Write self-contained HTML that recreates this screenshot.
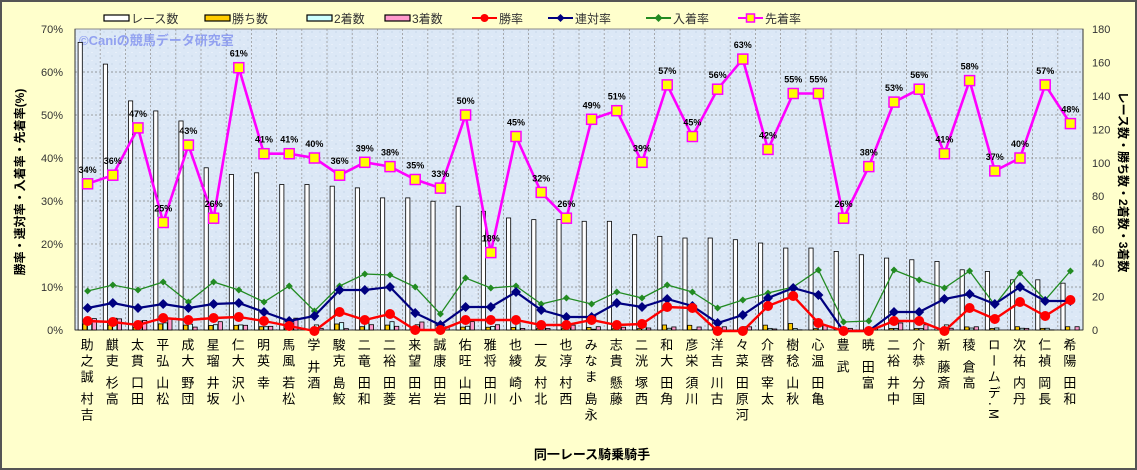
<!DOCTYPE html>
<html><head><meta charset="utf-8">
<style>
html,body{margin:0;padding:0;}
body{width:1137px;height:470px;overflow:hidden;background:#fff;}
#wrap{position:relative;width:1133px;height:466px;border:2px solid #555;background:#FFFFCC;font-family:"Liberation Sans","Noto Sans CJK JP",sans-serif;}
svg{position:absolute;left:0;top:0;}
.lab{position:absolute;top:336px;writing-mode:vertical-rl;font-size:13px;line-height:13px;letter-spacing:3px;color:#000;white-space:pre;font-family:"Noto Sans CJK JP",sans-serif;}
</style></head><body>
<div id="wrap">
<svg id="s" width="1133" height="466" xmlns="http://www.w3.org/2000/svg"></svg>
</div>
<script>
const names=["吉村 誠之助","高杉 吏麒","田口 貫太","松山 弘平","団野 大成","坂井 瑠星","小沢 大仁","幸 英明","松若 風馬","酒井 学","鮫島 克駿","和田 竜二","菱田 裕二","岩田 望来","岩田 康誠","田山 旺佑","川田 将雅","小崎 綾也","北村 友一","西村 淳也","永島 まなみ","藤懸 貴志","西塚 洸二","角田 大和","川須 栄彦","古川 吉洋","河原田 菜々","太宰 啓介","秋山 稔樹","亀田 温心","武 豊","富田 暁","中井 裕二","国分 恭介","斎藤 新","高倉 稜","M.デムーロ","丹内 祐次","長岡 禎仁","和田 陽希"];
const sen=[34,36,47,25,43,26,61,41,41,40,36,39,38,35,33,50,18,45,32,26,49,51,39,57,45,56,63,42,55,55,26,38,53,56,41,58,37,40,57,48];
const races=[172,159,137,131,125,97,93,94,87,87,86,85,79,79,77,74,71,67,66,66,65,65,57,56,55,55,54,52,49,49,47,45,43,42,41,36,35,30,30,28];
const red=[319,320,323,316,318,316,315,319,324,329,310,318,312,328,328,318,318,318,323,323,318,323,322,305,306,329,329,304,294,321,329,329,319,319,329,306,317,300,314,298];
const navy=[306,301,306,302,306,302,301,310,319,314,288,288,285,311,323,305,305,290,308,315,315,301,305,297,304,321,313,296,286,293,329,329,310,310,297,292,302,285,299,299];
const green=[289,283,288,280,300,280,288,300,284,309,284,272,273,285,312,276,286,284,302,296,302,290,296,283,290,306,298,291,285,268,320,319,268,278,286,269,303,271,298,269];
const L=73,R=1081,T=27,B=328,N=40,cw=(R-L)/N;
const pct=v=>B-v*(B-T)/70, cnt=v=>B-v*(B-T)/180;
const cx=i=>L+cw*(i+0.5);
let s='';
s+=`<defs><pattern id="tx" width="8" height="8" patternUnits="userSpaceOnUse"><rect width="8" height="8" fill="#DCE8F6"/><rect x="1" y="2" width="2" height="1" fill="#E8F0FA"/><rect x="5" y="5" width="2" height="2" fill="#D2E0F0"/></pattern></defs>`;
s+=`<rect x="${L}" y="${T}" width="${R-L}" height="${B-T}" fill="url(#tx)"/>`;
for(let k=1;k<7;k++){const y=pct(k*10);s+=`<line x1="${L}" x2="${R}" y1="${y}" y2="${y}" stroke="#888" stroke-dasharray="2,2" stroke-width="0.8"/>`;}
for(let i=1;i<N;i++){const x=L+cw*i;s+=`<line x1="${x}" x2="${x}" y1="${T}" y2="${B}" stroke="#999" stroke-dasharray="2,2" stroke-width="0.8"/>`;}
s+=`<rect x="${L}" y="${T}" width="${R-L}" height="${B-T}" fill="none" stroke="#888"/>`;
// axes
s+=`<line x1="${L}" x2="${L}" y1="${T}" y2="${B}" stroke="#333"/><line x1="${R}" x2="${R}" y1="${T}" y2="${B}" stroke="#333"/><line x1="${L}" x2="${R}" y1="${B}" y2="${B}" stroke="#333"/>`;
for(let k=0;k<=7;k++){const y=pct(k*10);s+=`<text x="61" y="${y+4}" font-size="11" text-anchor="end" fill="#333">${k*10}%</text>`;}
for(let k=0;k<=9;k++){const y=cnt(k*20);s+=`<text x="1090" y="${y+4}" font-size="11" fill="#333">${k*20}</text>`;}
s+=`<text x="77" y="43" font-size="13" font-weight="bold" fill="#8A9AF0" opacity="0.9">©Caniの競馬データ研究室</text>`;
// bars
for(let i=0;i<N;i++){
 const x=cx(i),r=races[i];
 const w=(B-red[i])/4.3/100,n=(B-navy[i])/4.3/100,g=(B-green[i])/4.3/100;
 const c1=r*w,c2=Math.max(0,(n-w)*r),c3=Math.max(0,(g-n)*r);
 const bw=4.2;const x0=x-9.5;
 const bar=(xx,v,f)=>{if(v<=0.01)return '';const y=cnt(v);return `<rect x="${xx}" y="${y}" width="${bw}" height="${B-y}" fill="${f}" stroke="#000" stroke-width="0.8"/>`;};
 s+=bar(x0,r,'#fff')+bar(x0+bw+0.5,c1,'#FFCC00')+bar(x0+2*(bw+0.5),c2,'#CCFFFF')+bar(x0+3*(bw+0.5),c3,'#FF99CC');
}
const line=(arr,col,sw)=>`<polyline fill="none" stroke="${col}" stroke-width="${sw}" points="${arr.map((y,i)=>cx(i)+','+y).join(' ')}"/>`;
s+=line(green,'#228B22',1.3);
green.forEach((y,i)=>{const x=cx(i);s+=`<polygon points="${x},${y-3.5} ${x+3.5},${y} ${x},${y+3.5} ${x-3.5},${y}" fill="#228B22"/>`;});
s+=line(navy,'#000080',2.2);
navy.forEach((y,i)=>{const x=cx(i);s+=`<polygon points="${x},${y-5} ${x+5},${y} ${x},${y+5} ${x-5},${y}" fill="#000080"/>`;});
s+=line(red,'#FF0000',2.4);
red.forEach((y,i)=>{s+=`<circle cx="${cx(i)}" cy="${y}" r="5" fill="#FF0000"/>`;});
const my=sen.map(v=>pct(v));
s+=line(my,'#FF00FF',2.6);
my.forEach((y,i)=>{const x=cx(i);s+=`<rect x="${x-5}" y="${y-5}" width="10" height="10" fill="#FFFF00" stroke="#FF00FF" stroke-width="1.5"/><text x="${x}" y="${y-11}" font-size="9" font-weight="bold" text-anchor="middle">${sen[i]}%</text>`;});
// legend
const lg=[[102,'box','#fff','レース数'],[203,'box','#FFCC00','勝ち数'],[305,'box','#CCFFFF','2着数'],[383,'box','#FF99CC','3着数'],[470,'ln','#FF0000','勝率','c'],[546,'ln','#000080','連対率','d'],[644,'ln','#228B22','入着率','d'],[736,'ln','#FF00FF','先着率','s']];
lg.forEach(([x,t,c,txt,m])=>{
 if(t=='box'){s+=`<rect x="${x}" y="13" width="25" height="6" fill="${c}" stroke="#000" stroke-width="1.2"/>`;}
 else{s+=`<line x1="${x}" x2="${x+25}" y1="16" y2="16" stroke="${c}" stroke-width="2"/>`;const mx=x+12.5;
  if(m=='c')s+=`<circle cx="${mx}" cy="16" r="4" fill="${c}"/>`;
  else if(m=='d')s+=`<polygon points="${mx},12 ${mx+4},16 ${mx},20 ${mx-4},16" fill="${c}"/>`;
  else s+=`<rect x="${mx-4}" y="12" width="8" height="8" fill="#FFFF00" stroke="${c}" stroke-width="1.5"/>`;}
 s+=`<text x="${x+27}" y="21" font-size="12" fill="#333">${txt}</text>`;
});
s+=`<text x="590" y="457" font-size="13" font-weight="bold" text-anchor="middle">同一レース騎乗騎手</text>`;
s+=`<text transform="translate(22,180) rotate(-90)" font-size="12" font-weight="bold" text-anchor="middle">勝率・連対率・入着率・先着率(%)</text>`;
s+=`<text transform="translate(1117,180) rotate(90)" font-size="12" font-weight="bold" text-anchor="middle">レース数・勝ち数・2着数・3着数</text>`;
document.getElementById('s').innerHTML=s;
const w=document.getElementById('wrap');
names.forEach((n,i)=>{const d=document.createElement('div');d.className='lab';
 d.textContent=[...n].reverse().join('');d.style.left=(cx(i)-7)+'px';w.appendChild(d);});
</script>
</body></html>
